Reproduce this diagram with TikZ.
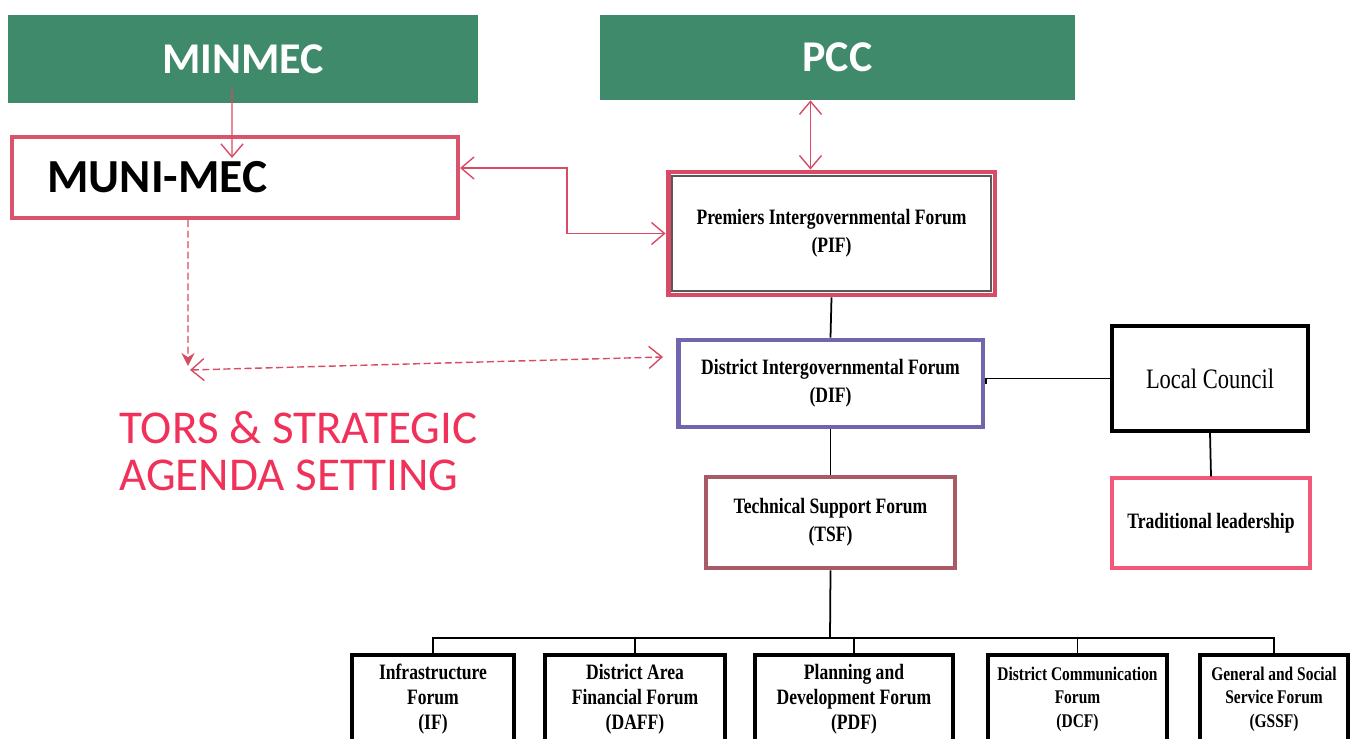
\documentclass[tikz,border=0pt]{standalone}
\usepackage{fontspec}
\usepackage{xcolor}
\usepackage{tikz}
\usetikzlibrary{arrows.meta,positioning}
\setmainfont{Liberation Serif}
\newfontfamily\calib{Carlito}
\newfontfamily\boxfont{Liberation Serif}[FakeStretch=0.8]

\definecolor{mecgreen}{RGB}{62,138,106}
\definecolor{munired}{RGB}{217,83,106}
\definecolor{linkred}{RGB}{217,74,100}
\definecolor{difpurple}{RGB}{112,102,174}
\definecolor{tsfbrown}{RGB}{168,90,102}
\definecolor{tradpink}{RGB}{242,88,122}
\definecolor{torsred}{RGB}{240,50,90}

\begin{document}
\begin{tikzpicture}[x=0.02cm, y=-0.02cm,
    barb/.tip={Straight Barb[length=2.6mm,width=4.4mm]},
    greenbox/.style={fill=mecgreen, text=white, inner sep=0pt,
                     font=\calib\bfseries\fontsize{25}{30}\selectfont},
    forumbox/.style={draw, line width=2.4pt, fill=white, align=center, inner sep=0pt,
                     font=\boxfont\bfseries\fontsize{12.5}{16}\selectfont},
    subforum/.style={draw, line width=1.8pt, align=center, inner sep=0pt,
                     minimum height=1.76cm,
                     font=\boxfont\bfseries\fontsize{12.5}{14.2}\selectfont},
    small/.style={font=\boxfont\bfseries\fontsize{11}{13.3}\selectfont},
    link/.style={line width=1pt},
    redlink/.style={draw=linkred, line width=0.8pt},
    dashlink/.style={redlink, dash pattern=on 4pt off 2pt}]
  \useasboundingbox (0,0) rectangle (1351,739);

  % top row
  \node[greenbox, minimum width=9.4cm, minimum height=1.76cm] (minmec) at (243,59) {MINMEC};
  \node[greenbox, minimum width=9.5cm, minimum height=1.7cm] (pcc) at (837.5,57.5) {PCC};

  \node[draw=munired, line width=2.3pt, minimum height=1.62cm, text width=7.5cm,
        inner xsep=0.71cm, inner ysep=0pt, align=left,
        font=\calib\bfseries\fontsize{27}{32}\selectfont] (muni) at (235,177.5) {MUNI-MEC};

  \node[forumbox, draw=linkred, line width=2.8pt, minimum width=6.54cm, minimum height=2.46cm] (pif) at (831.5,233.5)
    {Premiers Intergovernmental Forum\\(PIF)};
  \draw[gray!70!black, line width=1pt] ([shift={(0.13cm,-0.13cm)}]pif.north west)
    rectangle ([shift={(-0.13cm,0.13cm)}]pif.south east);

  \node[forumbox, draw=difpurple, line width=2.8pt, minimum width=6.1cm, minimum height=1.74cm] (dif) at (830.5,383.5)
    {District Intergovernmental Forum\\(DIF)};
  \node[forumbox, draw=tsfbrown, line width=2.8pt, minimum width=4.98cm, minimum height=1.82cm] (tsf) at (830.5,522.5)
    {Technical Support Forum\\(TSF)};
  \node[forumbox, draw=black, line width=2.2pt, minimum width=3.92cm, minimum height=2.1cm,
        font=\boxfont\fontsize{16}{19}\selectfont] (lc) at (1210,378.5) {Local Council};
  \node[forumbox, draw=tradpink, line width=1.8pt, minimum width=3.96cm, minimum height=1.8cm] (trad) at (1211,523)
    {Traditional leadership};

  % sub forums under the TSF
  \node[subforum, minimum width=3.24cm] (if) at (433,699) {Infrastructure\\Forum\\(IF)};
  \node[subforum, minimum width=3.6cm] (daff) at (635,699) {District Area\\Financial Forum\\(DAFF)};
  \node[subforum, minimum width=3.96cm] (pdf) at (854,699) {Planning and\\Development Forum\\(PDF)};
  \node[subforum, small, minimum width=3.58cm] (dcf) at (1077.5,699) {District Communication\\Forum\\(DCF)};
  \node[subforum, small, minimum width=2.96cm] (gssf) at (1274,699) {General and Social\\Service Forum\\(GSSF)};

  \node[anchor=west, align=left, inner sep=0pt, text=torsred,
        font=\calib\fontsize{26.8}{26.6}\selectfont] (tors) at (119,451)
    {TORS \& STRATEGIC\\AGENDA SETTING};

  % red links
  \draw[redlink, -barb] ([xshift=-0.22cm, yshift=0.3cm]minmec.south) -- ([xshift=-0.06cm, yshift=-0.46cm]muni.north);
  \draw[redlink, barb-barb] ([xshift=-0.54cm]pcc.south) -- ([xshift=-0.54cm]pcc.south |- pif.north);
  \draw[redlink, barb-barb] ([yshift=0.19cm]muni.east) -- ++(107,0) |- (pif.west);

  \coordinate (agendaL) at (190,370);
  \coordinate (agendaR) at (663,357);
  \draw[dashlink, -{Stealth[length=2.6mm,width=2.6mm]}] ([xshift=-0.94cm]muni.south) -- ([yshift=0.08cm]agendaL -| 188,0);
  \draw[dashlink, barb-barb] (agendaL) -- (agendaR);

  % black links
  \draw[link] (pif.south) -- (dif.north);
  \draw[link] (dif.south) -- (tsf.north);
  \draw[link] (dif.east) -- ++(0.2,0) |- (lc.west);
  \draw[link] (lc.south) -- (trad.north);

  \coordinate (bus) at (830,638);
  \draw[link] (tsf.south) -- (bus);
  \foreach \f in {if,daff,pdf,dcf,gssf}
    \draw[link] (\f.north) |- (bus);
\end{tikzpicture}
\end{document}
